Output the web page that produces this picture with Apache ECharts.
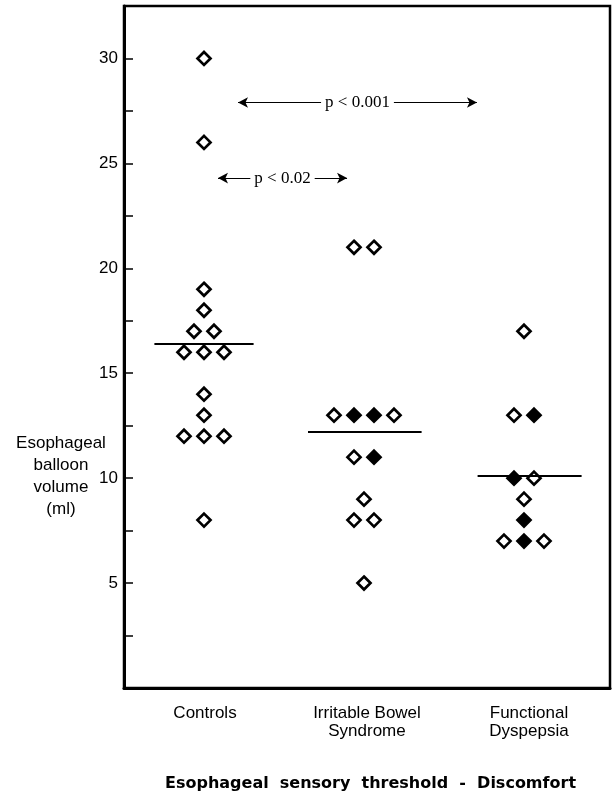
<!DOCTYPE html>
<html>
<head>
<meta charset="utf-8">
<script src="https://cdn.jsdelivr.net/npm/echarts@6/dist/echarts.min.js"></script>
<style>
  html, body { margin: 0; padding: 0; background: #fff; }
  #chart { width: 612px; height: 791px; }
</style>
</head>
<body>
<div id="chart"></div>
<script>
// groups + readings (ml), listed top to bottom, left to right within a row
const groups = ['Controls', 'Irritable Bowel\nSyndrome', 'Functional\nDyspepsia']
const controlsVol = [30, 26, 19, 18, 17, 17, 16, 16, 16, 14, 13, 12, 12, 12, 8]
const controlsSolid = [0, 0, 0, 0, 0, 0, 0, 0, 0, 0, 0, 0, 0, 0, 0]
const ibsVol = [21, 21, 13, 13, 13, 13, 11, 11, 9, 8, 8, 5]
const ibsSolid = [0, 0, 0, 1, 1, 0, 0, 1, 0, 0, 0, 0]
const fdVol = [17, 13, 13, 10, 10, 9, 8, 7, 7, 7]
const fdSolid = [0, 0, 1, 1, 0, 0, 1, 0, 1, 0]
const groupMeans = [16.4, 12.2, 10.1]
const yTickLabels = [5, 10, 15, 20, 25, 30]
const pLabels = ['p < 0.001', 'p < 0.02']

// layout
const centers = [0.5, 1.5, 2.5]
const step = 0.125
const meanSpans = [[0.19, 0.81], [1.15, 1.86], [2.21, 2.86]]
const font = 'Liberation Sans'

// spread equal values side by side
function swarm(vals, solid, cx) {
  const counts = {}
  vals.forEach(v => { counts[v] = (counts[v] || 0) + 1 })
  const seen = {}
  return vals.map((v, i) => {
    const k = seen[v] || 0
    seen[v] = k + 1
    const x = cx + (k - (counts[v] - 1) / 2) * step
    return { value: [x, v], itemStyle: { color: solid[i] ? '#000' : '#fff' } }
  })
}

const points = [
  ...swarm(controlsVol, controlsSolid, centers[0]),
  ...swarm(ibsVol, ibsSolid, centers[1]),
  ...swarm(fdVol, fdSolid, centers[2]),
]

const chart = echarts.init(document.getElementById('chart'))
chart.setOption({
  animation: false,
  title: {
    text: 'Esophageal  sensory  threshold  -  Discomfort',
    left: 160, top: 771,
    textStyle: { fontFamily: 'DejaVu Sans', fontWeight: 'bold', fontSize: 16, color: '#000' },
  },
  grid: { left: 124, right: 2, top: 6, bottom: 103, show: true, borderColor: '#000', borderWidth: 2.5 },
  xAxis: [
    { type: 'value', min: 0, max: 3.0375, show: false },
    {
      type: 'category', data: groups, position: 'bottom',
      axisLine: { lineStyle: { color: '#000', width: 3 } },
      axisTick: { show: false },
      axisLabel: { interval: 0, margin: 16, color: '#000', fontFamily: font, fontSize: 17, lineHeight: 18 },
    },
  ],
  yAxis: {
    type: 'value', min: 0, max: 32.5, interval: 2.5,
    axisLine: { show: true, lineStyle: { color: '#000', width: 3 } },
    axisTick: { show: true, inside: true, length: 9, lineStyle: { color: '#000', width: 1.5 } },
    axisLabel: {
      margin: 6, color: '#000', fontFamily: font, fontSize: 17,
      formatter: v => yTickLabels.includes(v) ? String(v) : '',
    },
    splitLine: { show: false },
  },
  graphic: [{
    type: 'text', x: 61, y: 432,
    style: {
      text: 'Esophageal\nballoon\nvolume\n(ml)', align: 'center',
      font: '17px "Liberation Sans"', lineHeight: 22, fill: '#000',
    },
  }],
  series: [
    {
      type: 'line', xAxisIndex: 0, data: [], z: 1, silent: true,
      markLine: {
        silent: true, symbol: ['none', 'none'],
        lineStyle: { color: '#000', width: 2, type: 'solid' },
        label: { show: false },
        data: groupMeans.map((m, i) => [{ coord: [meanSpans[i][0], m] }, { coord: [meanSpans[i][1], m] }]),
      },
    },
    {
      type: 'line', xAxisIndex: 0, data: [], z: 2, silent: true,
      markLine: {
        silent: true, symbol: ['arrow', 'arrow'], symbolSize: [8, 10],
        lineStyle: { color: '#000', width: 1.2, type: 'solid' },
        label: {
          show: true, position: 'middle', distance: 0, verticalAlign: 'middle',
          color: '#000', fontFamily: 'Liberation Serif', fontSize: 17,
          backgroundColor: '#fff', padding: [0, 4],
          formatter: p => p.name,
        },
        data: [
          [{ name: pLabels[0], coord: [0.7125, 27.9] }, { coord: [2.206, 27.9] }],
          [{ name: pLabels[1], coord: [0.5875, 24.3] }, { coord: [1.394, 24.3] }],
        ],
      },
    },
    {
      type: 'scatter', xAxisIndex: 0, z: 3,
      symbol: 'diamond', symbolSize: 13,
      itemStyle: { borderColor: '#000', borderWidth: 2.7, opacity: 1 },
      data: points,
    },
  ],
})
</script>
</body>
</html>
